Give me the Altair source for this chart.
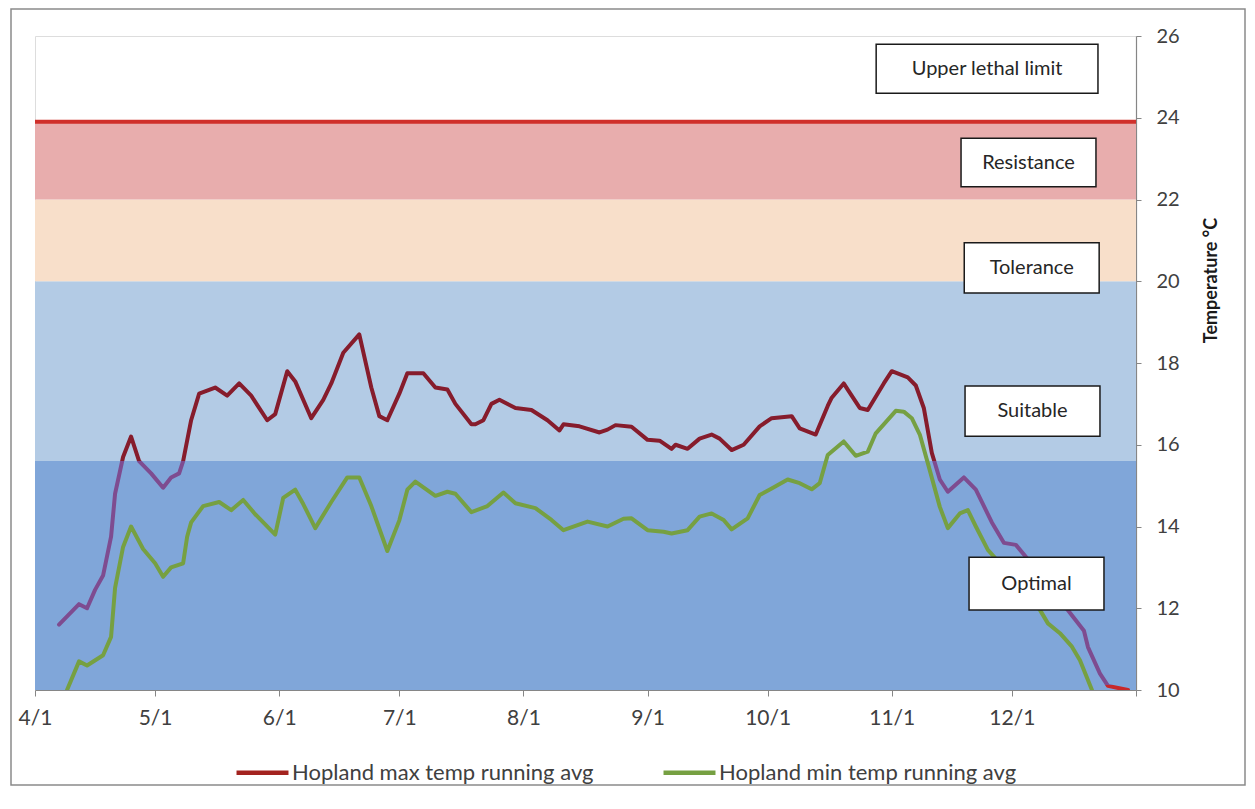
import altair as alt
import pandas as pd

START = pd.Timestamp("2013-04-01")
END = pd.Timestamp("2014-01-01")

# Day offsets from 4/1 and running-average temperatures (°C)
max_days = [6, 11, 13, 15, 17, 19, 20, 22, 24, 26, 29, 32, 34, 36, 37, 39, 41, 45, 48, 51,
            54, 58, 60, 63, 65, 69, 72, 74, 77, 81, 84, 86, 88, 91, 93, 97, 100, 103, 105, 109,
            110, 112, 114, 116, 120, 124, 128, 131, 132, 136, 141, 143, 145, 149, 153, 156, 159, 160, 163, 166,
            169, 171, 174, 177, 181, 184, 189, 191, 195, 198, 199, 202, 203, 206, 208, 212, 214, 218, 220, 222,
            224, 226, 228, 232, 235, 239, 242, 245, 248, 251, 254, 258, 262, 263, 266, 268, 273]
max_vals = [11.6, 12.1, 12.0, 12.45, 12.8, 13.75, 14.8, 15.7, 16.2, 15.6, 15.3, 14.95, 15.2, 15.3, 15.6, 16.6, 17.25, 17.4, 17.2, 17.5,
            17.2, 16.6, 16.75, 17.8, 17.55, 16.65, 17.1, 17.5, 18.25, 18.7, 17.4, 16.7, 16.6, 17.25, 17.75, 17.75, 17.4, 17.35, 17.0, 16.5,
            16.5, 16.6, 17.0, 17.1, 16.9, 16.85, 16.6, 16.35, 16.5, 16.45, 16.3, 16.37, 16.48, 16.44, 16.12, 16.1, 15.9, 16.0, 15.9, 16.15,
            16.25, 16.15, 15.87, 16.0, 16.45, 16.65, 16.7, 16.4, 16.25, 16.95, 17.15, 17.5, 17.35, 16.9, 16.85, 17.5, 17.8, 17.65, 17.45, 16.9,
            15.8, 15.15, 14.85, 15.2, 14.9, 14.1, 13.6, 13.55, 13.2, 12.8, 12.4, 11.95, 11.45, 11.05, 10.4, 10.1, 10.0]

min_days = [8, 11, 13, 17, 19, 20, 22, 24, 27, 30, 32, 34, 37, 38, 39, 42, 46, 49, 52, 55,
            60, 62, 65, 67, 70, 74, 78, 81, 84, 88, 91, 93, 95, 100, 103, 105, 109, 113, 117, 120,
            125, 129, 132, 138, 143, 147, 149, 153, 157, 159, 163, 166, 169, 172, 174, 178, 181, 184, 188, 191,
            194, 196, 198, 202, 205, 208, 210, 215, 217, 219, 221, 223, 226, 228, 231, 233, 235, 238, 241, 245,
            248, 251, 253, 256, 259, 261, 264]
min_vals = [10.0, 10.7, 10.6, 10.85, 11.3, 12.5, 13.5, 14.0, 13.45, 13.1, 12.77, 13.0, 13.1, 13.75, 14.1, 14.5, 14.6, 14.4, 14.65, 14.3,
            13.8, 14.7, 14.9, 14.55, 13.96, 14.6, 15.2, 15.2, 14.5, 13.4, 14.15, 14.9, 15.1, 14.75, 14.85, 14.8, 14.35, 14.5, 14.83, 14.57,
            14.45, 14.16, 13.91, 14.12, 14.0, 14.19, 14.2, 13.91, 13.87, 13.83, 13.91, 14.24, 14.32, 14.16, 13.93, 14.2, 14.77, 14.93, 15.15, 15.06,
            14.91, 15.06, 15.75, 16.08, 15.73, 15.83, 16.28, 16.83, 16.81, 16.65, 16.25, 15.55, 14.48, 13.96, 14.32, 14.4, 14.0, 13.43, 13.1, 12.6,
            12.3, 11.96, 11.63, 11.39, 11.06, 10.73, 10.0]

series_names = ["Hopland max temp running avg", "Hopland min temp running avg"]
series_colors = ["#A3231F", "#76A042"]

band_names = ["Optimal", "Suitable", "Tolerance", "Resistance"]
band_lo = [10.0, 15.6, 20.0, 22.0]
band_hi = [15.6, 20.0, 22.0, 23.9]
band_colors = ["#80A6D9", "#B3CBE5", "#F8DFCA", "#E8ADAD"]
lethal_limit = 23.9

box_labels = ["Upper lethal limit", "Resistance", "Tolerance", "Suitable", "Optimal"]
box_x0 = [210.1, 231.3, 232.1, 232.3, 233.3]
box_x1 = [265.5, 265.0, 265.8, 266.0, 267.0]
box_y0 = [24.6, 22.31, 19.71, 16.21, 11.96]
box_y1 = [25.8, 23.50, 20.94, 17.44, 13.25]

y_ticks = [10, 12, 14, 16, 18, 20, 22, 24, 26]
month_ticks = [alt.DateTime(year=2013, month=m, date=1) for m in range(4, 13)] + [alt.DateTime(year=2014, month=1, date=1)]

FONT = "Lato"


def to_date(d):
    return START + pd.Timedelta(days=d)


max_df = pd.DataFrame({"date": [to_date(d) for d in max_days], "temp": max_vals})
min_df = pd.DataFrame({"date": [to_date(d) for d in min_days], "temp": min_vals,
                       "series": series_names[1]})
band_df = pd.DataFrame({"name": band_names, "lo": band_lo, "hi": band_hi,
                        "x0": START, "x1": END})
rule_df = pd.DataFrame({"y": [lethal_limit], "x0": [START], "x1": [END]})
box_df = pd.DataFrame({
    "label": box_labels,
    "x0": [to_date(d) for d in box_x0],
    "x1": [to_date(d) for d in box_x1],
    "xm": [to_date((a + b) / 2) for a, b in zip(box_x0, box_x1)],
    "y0": box_y0, "y1": box_y1,
    "ym": [(a + b) / 2 for a, b in zip(box_y0, box_y1)],
})

xscale = alt.Scale(domain=[alt.DateTime(year=2013, month=4, date=1), alt.DateTime(year=2014, month=1, date=1)])
yscale = alt.Scale(domain=[10, 26], nice=False, zero=False)

x_axis = alt.Axis(values=month_ticks, labelExpr="month(datum.value) == 0 ? '' : timeFormat(datum.value, '%-m/%-d')",
                  title=None, grid=False, tickSize=6, labelFontSize=21, labelPadding=11, labelFont=FONT,
                  labelColor="#404040", domainColor="#868686", tickColor="#868686", domainWidth=1.2,
                  labelFlush=False, labelOverlap=False)
y_axis = alt.Axis(orient="right", values=y_ticks, title="Temperature °C", grid=False, tickSize=5,
                  labelFontSize=20, labelPadding=15, labelFont=FONT, labelColor="#404040",
                  domainColor="#868686", tickColor="#868686", domainWidth=1.2,
                  titleFont=FONT, titleFontSize=18, titleFontWeight="bold", titleColor="#1a1a1a",
                  titleAngle=270, titleX=75, titleY=244, titleAlign="center", titleBaseline="middle")

bands = alt.Chart(band_df).mark_rect().encode(
    x=alt.X("x0:T", scale=xscale, axis=x_axis),
    x2="x1:T",
    y=alt.Y("lo:Q", scale=yscale, axis=y_axis),
    y2="hi:Q",
    fill=alt.Fill("name:N", scale=alt.Scale(domain=band_names, range=band_colors), legend=None),
)

rule = alt.Chart(rule_df).mark_rule(color="#D0302B", strokeWidth=4).encode(
    x="x0:T", x2="x1:T", y="y:Q")

lo_v, hi_v = min(max_vals), max(max_vals)
split = (band_lo[1] - lo_v) / (hi_v - lo_v)
red_end = (10.12 - lo_v) / (hi_v - lo_v)
grad = alt.Gradient(
    gradient="linear", x1=0, x2=0, y1=1, y2=0,
    stops=[alt.GradientStop(offset=0, color="#C8282A"),
           alt.GradientStop(offset=red_end, color="#C8282A"),
           alt.GradientStop(offset=red_end, color="#7E4C90"),
           alt.GradientStop(offset=split, color="#7E4C90"),
           alt.GradientStop(offset=split, color="#861C2C"),
           alt.GradientStop(offset=1, color="#861C2C")])

max_line = alt.Chart(max_df).mark_line(strokeWidth=4, clip=True, color=grad,
                                       strokeJoin="round", strokeCap="round").encode(
    x="date:T", y="temp:Q")

min_line = alt.Chart(min_df).mark_line(strokeWidth=4, clip=True, strokeJoin="round",
                                       strokeCap="round").encode(
    x="date:T", y="temp:Q",
    color=alt.Color("series:N", scale=alt.Scale(domain=series_names, range=series_colors),
                    legend=alt.Legend(title=None, orient="none", direction="horizontal",
                                      legendX=199, legendY=708, symbolType="stroke",
                                      symbolSize=2700, symbolStrokeWidth=4.5,
                                      labelFont=FONT, labelFontSize=22, labelColor="#404040",
                                      labelOffset=1, columnPadding=60, labelLimit=500)),
)

boxes = alt.Chart(box_df).mark_rect(fill="white", stroke="#1a1a1a", strokeWidth=1.5).encode(
    x="x0:T", x2="x1:T", y="y0:Q", y2="y1:Q")

box_text = alt.Chart(box_df).mark_text(font=FONT, fontSize=20, color="#262626").encode(
    x="xm:T", y="ym:Q", text="label:N")

frame = alt.Chart(pd.DataFrame({"a": [0]})).mark_rect(fillOpacity=0, stroke="#8a8a8a", strokeWidth=1.5).encode(
    x=alt.value(-24), x2=alt.value(1210), y=alt.value(-27), y2=alt.value(749))

chart = alt.layer(bands, rule, max_line, min_line, boxes, box_text, frame).properties(
    width=1101, height=654,
    autosize=alt.AutoSizeParams(type="none"),
    padding={"left": 27, "top": 28, "right": 111, "bottom": 97},
).configure_view(stroke=None).configure(background="white")

chart.save("out.html", embed_options={"renderer": "svg", "actions": False})
